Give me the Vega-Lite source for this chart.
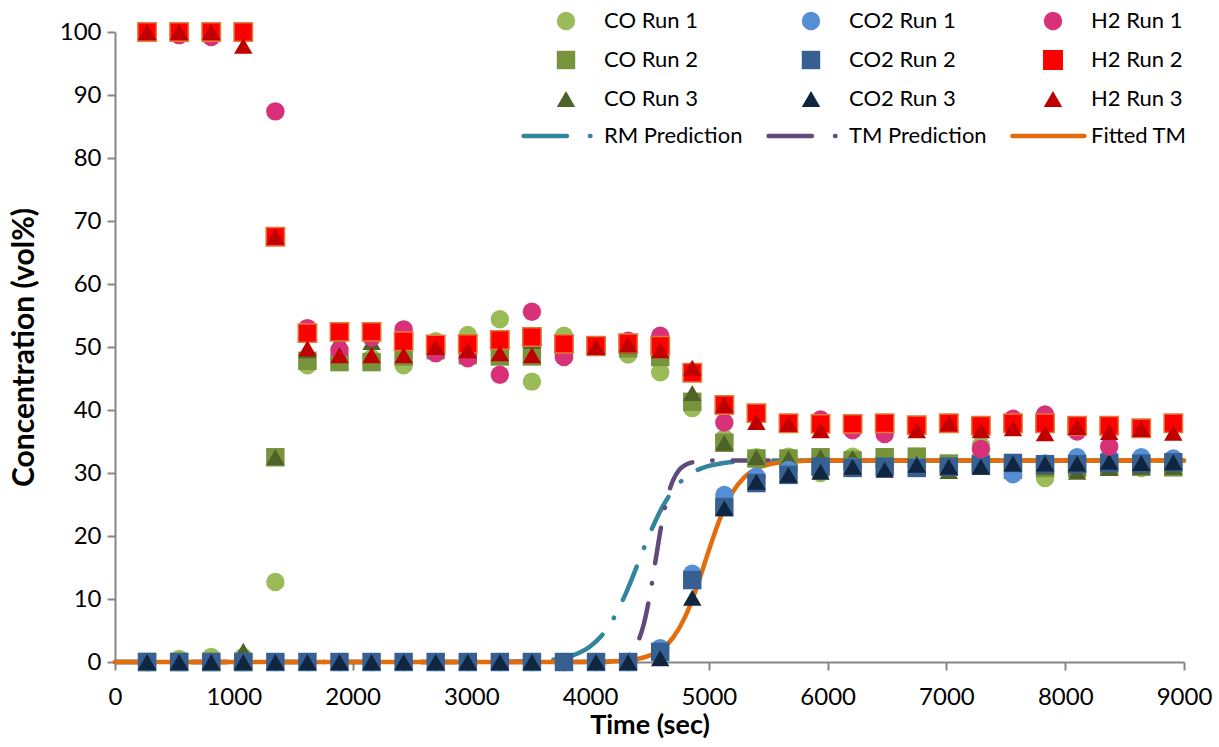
{
"$schema": "https://vega.github.io/schema/vega-lite/v6.json",
"width": 1069, "height": 630,
"autosize": {"type": "none"},
"padding": {"left": 115, "top": 32, "right": 35, "bottom": 85},
"background": "white",
"config": {
 "view": {"stroke": null},
 "font": "Lato",
 "axis": {"domainColor": "#868686", "domainWidth": 2, "tickColor": "#868686", "tickWidth": 2, "tickSize": 8, "grid": false,
  "labelColor": "#000000", "labelFontSize": 24, "labelFont": "Lato", "titleColor": "#000000", "titleFont": "Lato", "titleFontWeight": "bold"}
},
"datasets": {
 "pts": [
{"s":"CO Run 1","t":270,"v":0},{"s":"CO Run 1","t":540,"v":0.5},{"s":"CO Run 1","t":810,"v":0.8},{"s":"CO Run 1","t":1080,"v":0.8},{"s":"CO Run 1","t":1350,"v":12.7},{"s":"CO Run 1","t":1620,"v":47.1},{"s":"CO Run 1","t":1890,"v":48},{"s":"CO Run 1","t":2160,"v":48.2},{"s":"CO Run 1","t":2430,"v":47.1},{"s":"CO Run 1","t":2700,"v":50.9},{"s":"CO Run 1","t":2970,"v":51.9},{"s":"CO Run 1","t":3240,"v":54.4},{"s":"CO Run 1","t":3510,"v":44.5},{"s":"CO Run 1","t":3780,"v":51.8},{"s":"CO Run 1","t":4050,"v":50},{"s":"CO Run 1","t":4320,"v":48.8},{"s":"CO Run 1","t":4590,"v":46},{"s":"CO Run 1","t":4860,"v":40.3},{"s":"CO Run 1","t":5130,"v":35.5},{"s":"CO Run 1","t":5400,"v":32.5},{"s":"CO Run 1","t":5670,"v":32.6},{"s":"CO Run 1","t":5940,"v":30},{"s":"CO Run 1","t":6210,"v":32.6},{"s":"CO Run 1","t":6480,"v":32.5},{"s":"CO Run 1","t":6750,"v":31.5},{"s":"CO Run 1","t":7020,"v":31},{"s":"CO Run 1","t":7290,"v":34.4},{"s":"CO Run 1","t":7560,"v":31},{"s":"CO Run 1","t":7830,"v":29.2},{"s":"CO Run 1","t":8100,"v":31},{"s":"CO Run 1","t":8370,"v":31.8},{"s":"CO Run 1","t":8640,"v":30.8},{"s":"CO Run 1","t":8910,"v":31},
{"s":"CO Run 2","t":270,"v":0},{"s":"CO Run 2","t":540,"v":0},{"s":"CO Run 2","t":810,"v":0},{"s":"CO Run 2","t":1080,"v":0},{"s":"CO Run 2","t":1350,"v":32.5},{"s":"CO Run 2","t":1620,"v":47.8},{"s":"CO Run 2","t":1890,"v":47.6},{"s":"CO Run 2","t":2160,"v":47.6},{"s":"CO Run 2","t":2430,"v":48.5},{"s":"CO Run 2","t":2700,"v":49.5},{"s":"CO Run 2","t":2970,"v":48.7},{"s":"CO Run 2","t":3240,"v":48.5},{"s":"CO Run 2","t":3510,"v":48.5},{"s":"CO Run 2","t":3780,"v":49.5},{"s":"CO Run 2","t":4050,"v":50},{"s":"CO Run 2","t":4320,"v":49.8},{"s":"CO Run 2","t":4590,"v":48.4},{"s":"CO Run 2","t":4860,"v":41.3},{"s":"CO Run 2","t":5130,"v":34.8},{"s":"CO Run 2","t":5400,"v":32.3},{"s":"CO Run 2","t":5670,"v":32.3},{"s":"CO Run 2","t":5940,"v":32.5},{"s":"CO Run 2","t":6210,"v":32},{"s":"CO Run 2","t":6480,"v":32.5},{"s":"CO Run 2","t":6750,"v":32.6},{"s":"CO Run 2","t":7020,"v":31.5},{"s":"CO Run 2","t":7290,"v":31.5},{"s":"CO Run 2","t":7560,"v":30.5},{"s":"CO Run 2","t":7830,"v":30.8},{"s":"CO Run 2","t":8100,"v":30.8},{"s":"CO Run 2","t":8370,"v":31},{"s":"CO Run 2","t":8640,"v":31},{"s":"CO Run 2","t":8910,"v":30.9},
{"s":"CO Run 3","t":270,"v":0},{"s":"CO Run 3","t":540,"v":0},{"s":"CO Run 3","t":810,"v":0},{"s":"CO Run 3","t":1080,"v":1.8},{"s":"CO Run 3","t":1350,"v":32.5},{"s":"CO Run 3","t":1620,"v":49.5},{"s":"CO Run 3","t":1890,"v":51.1},{"s":"CO Run 3","t":2160,"v":50.8},{"s":"CO Run 3","t":2430,"v":51},{"s":"CO Run 3","t":2700,"v":50},{"s":"CO Run 3","t":2970,"v":50},{"s":"CO Run 3","t":3240,"v":51},{"s":"CO Run 3","t":3510,"v":51},{"s":"CO Run 3","t":4050,"v":50.1},{"s":"CO Run 3","t":4320,"v":50.2},{"s":"CO Run 3","t":4590,"v":49.8},{"s":"CO Run 3","t":4860,"v":42.7},{"s":"CO Run 3","t":5130,"v":34.8},{"s":"CO Run 3","t":5400,"v":32.5},{"s":"CO Run 3","t":5670,"v":32.3},{"s":"CO Run 3","t":5940,"v":32.5},{"s":"CO Run 3","t":6210,"v":32.4},{"s":"CO Run 3","t":6480,"v":31},{"s":"CO Run 3","t":6750,"v":31.5},{"s":"CO Run 3","t":7020,"v":30.3},{"s":"CO Run 3","t":7290,"v":31},{"s":"CO Run 3","t":7560,"v":30.5},{"s":"CO Run 3","t":7830,"v":31},{"s":"CO Run 3","t":8100,"v":30.2},{"s":"CO Run 3","t":8370,"v":30.8},{"s":"CO Run 3","t":8640,"v":31},{"s":"CO Run 3","t":8910,"v":31},
{"s":"CO2 Run 1","t":270,"v":0},{"s":"CO2 Run 1","t":540,"v":0},{"s":"CO2 Run 1","t":810,"v":0},{"s":"CO2 Run 1","t":1080,"v":0},{"s":"CO2 Run 1","t":1350,"v":0},{"s":"CO2 Run 1","t":1620,"v":0},{"s":"CO2 Run 1","t":1890,"v":0},{"s":"CO2 Run 1","t":2160,"v":0},{"s":"CO2 Run 1","t":2430,"v":0},{"s":"CO2 Run 1","t":2700,"v":0},{"s":"CO2 Run 1","t":2970,"v":0},{"s":"CO2 Run 1","t":3240,"v":0},{"s":"CO2 Run 1","t":3510,"v":0},{"s":"CO2 Run 1","t":3780,"v":0},{"s":"CO2 Run 1","t":4050,"v":0},{"s":"CO2 Run 1","t":4320,"v":0},{"s":"CO2 Run 1","t":4590,"v":2.2},{"s":"CO2 Run 1","t":4860,"v":14},{"s":"CO2 Run 1","t":5130,"v":26.5},{"s":"CO2 Run 1","t":5400,"v":29.4},{"s":"CO2 Run 1","t":5670,"v":30.5},{"s":"CO2 Run 1","t":5940,"v":30.5},{"s":"CO2 Run 1","t":6210,"v":31},{"s":"CO2 Run 1","t":6480,"v":31},{"s":"CO2 Run 1","t":6750,"v":31},{"s":"CO2 Run 1","t":7020,"v":31},{"s":"CO2 Run 1","t":7290,"v":31.3},{"s":"CO2 Run 1","t":7560,"v":29.8},{"s":"CO2 Run 1","t":7830,"v":31.5},{"s":"CO2 Run 1","t":8100,"v":32.5},{"s":"CO2 Run 1","t":8370,"v":32.5},{"s":"CO2 Run 1","t":8640,"v":32.5},{"s":"CO2 Run 1","t":8910,"v":32.3},
{"s":"CO2 Run 2","t":270,"v":0},{"s":"CO2 Run 2","t":540,"v":0},{"s":"CO2 Run 2","t":810,"v":0},{"s":"CO2 Run 2","t":1080,"v":0},{"s":"CO2 Run 2","t":1350,"v":0},{"s":"CO2 Run 2","t":1620,"v":0},{"s":"CO2 Run 2","t":1890,"v":0},{"s":"CO2 Run 2","t":2160,"v":0},{"s":"CO2 Run 2","t":2430,"v":0},{"s":"CO2 Run 2","t":2700,"v":0},{"s":"CO2 Run 2","t":2970,"v":0},{"s":"CO2 Run 2","t":3240,"v":0},{"s":"CO2 Run 2","t":3510,"v":0},{"s":"CO2 Run 2","t":3780,"v":0},{"s":"CO2 Run 2","t":4050,"v":0},{"s":"CO2 Run 2","t":4320,"v":0},{"s":"CO2 Run 2","t":4590,"v":1.6},{"s":"CO2 Run 2","t":4860,"v":13},{"s":"CO2 Run 2","t":5130,"v":24.6},{"s":"CO2 Run 2","t":5400,"v":28.4},{"s":"CO2 Run 2","t":5670,"v":29.7},{"s":"CO2 Run 2","t":5940,"v":31},{"s":"CO2 Run 2","t":6210,"v":30.8},{"s":"CO2 Run 2","t":6480,"v":31},{"s":"CO2 Run 2","t":6750,"v":30.8},{"s":"CO2 Run 2","t":7020,"v":31},{"s":"CO2 Run 2","t":7290,"v":31.3},{"s":"CO2 Run 2","t":7560,"v":31.6},{"s":"CO2 Run 2","t":7830,"v":31.4},{"s":"CO2 Run 2","t":8100,"v":31.4},{"s":"CO2 Run 2","t":8370,"v":31.6},{"s":"CO2 Run 2","t":8640,"v":31.5},{"s":"CO2 Run 2","t":8910,"v":31.7},
{"s":"CO2 Run 3","t":270,"v":0},{"s":"CO2 Run 3","t":540,"v":0},{"s":"CO2 Run 3","t":810,"v":0},{"s":"CO2 Run 3","t":1080,"v":0},{"s":"CO2 Run 3","t":1350,"v":0},{"s":"CO2 Run 3","t":1620,"v":0},{"s":"CO2 Run 3","t":1890,"v":0},{"s":"CO2 Run 3","t":2160,"v":0},{"s":"CO2 Run 3","t":2430,"v":0},{"s":"CO2 Run 3","t":2700,"v":0},{"s":"CO2 Run 3","t":2970,"v":0},{"s":"CO2 Run 3","t":3240,"v":0},{"s":"CO2 Run 3","t":3510,"v":0},{"s":"CO2 Run 3","t":4050,"v":0},{"s":"CO2 Run 3","t":4320,"v":0},{"s":"CO2 Run 3","t":4590,"v":0.6},{"s":"CO2 Run 3","t":4860,"v":10.2},{"s":"CO2 Run 3","t":5130,"v":24.4},{"s":"CO2 Run 3","t":5400,"v":28.6},{"s":"CO2 Run 3","t":5670,"v":29.7},{"s":"CO2 Run 3","t":5940,"v":30.2},{"s":"CO2 Run 3","t":6210,"v":31},{"s":"CO2 Run 3","t":6480,"v":30.5},{"s":"CO2 Run 3","t":6750,"v":31.3},{"s":"CO2 Run 3","t":7020,"v":31},{"s":"CO2 Run 3","t":7290,"v":31},{"s":"CO2 Run 3","t":7560,"v":31.5},{"s":"CO2 Run 3","t":7830,"v":31.5},{"s":"CO2 Run 3","t":8100,"v":31.5},{"s":"CO2 Run 3","t":8370,"v":31.8},{"s":"CO2 Run 3","t":8640,"v":31.6},{"s":"CO2 Run 3","t":8910,"v":31.7},
{"s":"H2 Run 1","t":270,"v":100},{"s":"H2 Run 1","t":540,"v":99.5},{"s":"H2 Run 1","t":810,"v":99.2},{"s":"H2 Run 1","t":1080,"v":99.8},{"s":"H2 Run 1","t":1350,"v":87.4},{"s":"H2 Run 1","t":1620,"v":53},{"s":"H2 Run 1","t":1890,"v":49.5},{"s":"H2 Run 1","t":2160,"v":51.5},{"s":"H2 Run 1","t":2430,"v":52.8},{"s":"H2 Run 1","t":2700,"v":49},{"s":"H2 Run 1","t":2970,"v":48.2},{"s":"H2 Run 1","t":3240,"v":45.6},{"s":"H2 Run 1","t":3510,"v":55.6},{"s":"H2 Run 1","t":3780,"v":48.4},{"s":"H2 Run 1","t":4050,"v":50.2},{"s":"H2 Run 1","t":4320,"v":51},{"s":"H2 Run 1","t":4590,"v":51.8},{"s":"H2 Run 1","t":4860,"v":46},{"s":"H2 Run 1","t":5130,"v":38},{"s":"H2 Run 1","t":5400,"v":39},{"s":"H2 Run 1","t":5670,"v":38},{"s":"H2 Run 1","t":5940,"v":38.5},{"s":"H2 Run 1","t":6210,"v":36.8},{"s":"H2 Run 1","t":6480,"v":36.2},{"s":"H2 Run 1","t":6750,"v":37.5},{"s":"H2 Run 1","t":7020,"v":38},{"s":"H2 Run 1","t":7290,"v":33.8},{"s":"H2 Run 1","t":7560,"v":38.6},{"s":"H2 Run 1","t":7830,"v":39.3},{"s":"H2 Run 1","t":8100,"v":36.6},{"s":"H2 Run 1","t":8370,"v":34.2},{"s":"H2 Run 1","t":8640,"v":37},{"s":"H2 Run 1","t":8910,"v":37.5},
{"s":"H2 Run 2","t":270,"v":100},{"s":"H2 Run 2","t":540,"v":100},{"s":"H2 Run 2","t":810,"v":100},{"s":"H2 Run 2","t":1080,"v":100},{"s":"H2 Run 2","t":1350,"v":67.5},{"s":"H2 Run 2","t":1620,"v":52.2},{"s":"H2 Run 2","t":1890,"v":52.4},{"s":"H2 Run 2","t":2160,"v":52.4},{"s":"H2 Run 2","t":2430,"v":50.9},{"s":"H2 Run 2","t":2700,"v":50.4},{"s":"H2 Run 2","t":2970,"v":50.5},{"s":"H2 Run 2","t":3240,"v":51.1},{"s":"H2 Run 2","t":3510,"v":51.6},{"s":"H2 Run 2","t":3780,"v":50.5},{"s":"H2 Run 2","t":4050,"v":50.2},{"s":"H2 Run 2","t":4320,"v":50.6},{"s":"H2 Run 2","t":4590,"v":50.2},{"s":"H2 Run 2","t":4860,"v":45.9},{"s":"H2 Run 2","t":5130,"v":40.8},{"s":"H2 Run 2","t":5400,"v":39.5},{"s":"H2 Run 2","t":5670,"v":37.9},{"s":"H2 Run 2","t":5940,"v":37.8},{"s":"H2 Run 2","t":6210,"v":37.8},{"s":"H2 Run 2","t":6480,"v":37.9},{"s":"H2 Run 2","t":6750,"v":37.6},{"s":"H2 Run 2","t":7020,"v":37.9},{"s":"H2 Run 2","t":7290,"v":37.5},{"s":"H2 Run 2","t":7560,"v":37.9},{"s":"H2 Run 2","t":7830,"v":37.9},{"s":"H2 Run 2","t":8100,"v":37.5},{"s":"H2 Run 2","t":8370,"v":37.5},{"s":"H2 Run 2","t":8640,"v":37.1},{"s":"H2 Run 2","t":8910,"v":37.9},
{"s":"H2 Run 3","t":270,"v":100},{"s":"H2 Run 3","t":540,"v":100},{"s":"H2 Run 3","t":810,"v":100},{"s":"H2 Run 3","t":1080,"v":97.8},{"s":"H2 Run 3","t":1350,"v":67.5},{"s":"H2 Run 3","t":1620,"v":49.8},{"s":"H2 Run 3","t":1890,"v":48.7},{"s":"H2 Run 3","t":2160,"v":48.7},{"s":"H2 Run 3","t":2430,"v":48.7},{"s":"H2 Run 3","t":2700,"v":50},{"s":"H2 Run 3","t":2970,"v":49.5},{"s":"H2 Run 3","t":3240,"v":49},{"s":"H2 Run 3","t":3510,"v":48.7},{"s":"H2 Run 3","t":4050,"v":50},{"s":"H2 Run 3","t":4320,"v":50.4},{"s":"H2 Run 3","t":4590,"v":49.5},{"s":"H2 Run 3","t":4860,"v":46.7},{"s":"H2 Run 3","t":5130,"v":40.8},{"s":"H2 Run 3","t":5400,"v":38.1},{"s":"H2 Run 3","t":5670,"v":37.8},{"s":"H2 Run 3","t":5940,"v":36.8},{"s":"H2 Run 3","t":6750,"v":36.8},{"s":"H2 Run 3","t":7020,"v":37.9},{"s":"H2 Run 3","t":7290,"v":36.8},{"s":"H2 Run 3","t":7560,"v":37.1},{"s":"H2 Run 3","t":7830,"v":36.3},{"s":"H2 Run 3","t":8100,"v":37.3},{"s":"H2 Run 3","t":8370,"v":36.5},{"s":"H2 Run 3","t":8640,"v":37},{"s":"H2 Run 3","t":8910,"v":36.4}
 ],
 "lines": [
{"s":"RM Prediction","t":0,"v":0},{"s":"RM Prediction","t":3000,"v":0},{"s":"RM Prediction","t":3400,"v":0.07},{"s":"RM Prediction","t":3600,"v":0.24},{"s":"RM Prediction","t":3800,"v":0.77},{"s":"RM Prediction","t":3900,"v":1.39},{"s":"RM Prediction","t":4000,"v":2.46},{"s":"RM Prediction","t":4100,"v":4.24},{"s":"RM Prediction","t":4200,"v":7.0},{"s":"RM Prediction","t":4300,"v":10.85},{"s":"RM Prediction","t":4400,"v":15.5},{"s":"RM Prediction","t":4500,"v":20.25},{"s":"RM Prediction","t":4600,"v":24.3},{"s":"RM Prediction","t":4700,"v":27.3},{"s":"RM Prediction","t":4800,"v":29.25},{"s":"RM Prediction","t":4900,"v":30.44},{"s":"RM Prediction","t":5000,"v":31.13},{"s":"RM Prediction","t":5100,"v":31.52},{"s":"RM Prediction","t":5200,"v":31.74},{"s":"RM Prediction","t":5400,"v":31.92},{"s":"RM Prediction","t":5600,"v":32},{"s":"RM Prediction","t":9000,"v":32},
{"s":"TM Prediction","t":0,"v":0},{"s":"TM Prediction","t":4100,"v":0},{"s":"TM Prediction","t":4200,"v":0.17},{"s":"TM Prediction","t":4300,"v":0.75},{"s":"TM Prediction","t":4350,"v":1.54},{"s":"TM Prediction","t":4400,"v":3.08},{"s":"TM Prediction","t":4450,"v":5.87},{"s":"TM Prediction","t":4500,"v":10.3},{"s":"TM Prediction","t":4550,"v":16},{"s":"TM Prediction","t":4600,"v":21.7},{"s":"TM Prediction","t":4650,"v":26.1},{"s":"TM Prediction","t":4700,"v":28.9},{"s":"TM Prediction","t":4750,"v":30.5},{"s":"TM Prediction","t":4800,"v":31.25},{"s":"TM Prediction","t":4850,"v":31.64},{"s":"TM Prediction","t":4900,"v":31.83},{"s":"TM Prediction","t":5000,"v":31.96},{"s":"TM Prediction","t":5200,"v":32},{"s":"TM Prediction","t":9000,"v":32},
{"s":"Fitted TM","t":0,"v":0},{"s":"Fitted TM","t":3800,"v":0},{"s":"Fitted TM","t":4000,"v":0.03},{"s":"Fitted TM","t":4200,"v":0.12},{"s":"Fitted TM","t":4300,"v":0.24},{"s":"Fitted TM","t":4400,"v":0.49},{"s":"Fitted TM","t":4500,"v":1.0},{"s":"Fitted TM","t":4600,"v":2.01},{"s":"Fitted TM","t":4700,"v":3.92},{"s":"Fitted TM","t":4800,"v":7.17},{"s":"Fitted TM","t":4900,"v":12.0},{"s":"Fitted TM","t":5000,"v":17.75},{"s":"Fitted TM","t":5100,"v":23.07},{"s":"Fitted TM","t":5200,"v":26.96},{"s":"Fitted TM","t":5300,"v":29.36},{"s":"Fitted TM","t":5400,"v":30.67},{"s":"Fitted TM","t":5500,"v":31.35},{"s":"Fitted TM","t":5600,"v":31.68},{"s":"Fitted TM","t":5800,"v":31.93},{"s":"Fitted TM","t":6000,"v":32},{"s":"Fitted TM","t":9000,"v":32}
 ]
},
"encoding": {
 "x": {"field": "t", "type": "quantitative", "scale": {"domain": [0, 9000], "nice": false},
  "axis": {"title": "Time (sec)", "titleFontSize": 27, "values": [0,1000,2000,3000,4000,5000,6000,7000,8000,9000], "format": "d", "labelPadding": 15, "titlePadding": 3, "labelFlush": false}},
 "y": {"field": "v", "type": "quantitative", "scale": {"domain": [0, 100], "nice": false},
  "axis": {"title": "Concentration (vol%)", "titleFontSize": 30, "values": [0,10,20,30,40,50,60,70,80,90,100], "format": "d", "labelPadding": 6, "titlePadding": 20}},
 "color": {"field": "s", "type": "nominal",
  "scale": {"domain": ["CO Run 1","CO Run 2","CO Run 3","RM Prediction","CO2 Run 1","CO2 Run 2","CO2 Run 3","TM Prediction","H2 Run 1","H2 Run 2","H2 Run 3","Fitted TM"],
   "range": ["#9BBB59","#77933C","#4F6228","#31859C","#558ED5","#376092","#10253F","#604A7B","#D9307A","#FF0000","#C00000","#E46C0A"]},
  "legend": {"title": null, "orient": "none", "legendX": 440, "legendY": -22, "columns": 3, "columnPadding": 16, "rowPadding": 15,
   "labelFontSize": 22, "labelFont": "Lato", "labelColor": "#000000", "symbolSize": 340, "labelOffset": 27, "labelLimit": 400, "symbolOpacity": 1,
   "encode": {"symbols": {"update": {
     "stroke": {"signal": "datum.value === 'H2 Run 2' ? '#E07B39' : scale('color', datum.value)"},
     "strokeWidth": {"signal": "indexof(['RM Prediction','TM Prediction','Fitted TM'], datum.value) >= 0 ? 4.5 : (datum.value === 'H2 Run 2' ? 1.5 : 0)"},
     "strokeCap": {"value": "round"}}}}}
 }
},
"layer": [
 {"data": {"name": "lines"}, "transform": [{"filter": "datum.s === 'RM Prediction'"}],
  "mark": {"type": "line", "strokeWidth": 4.5, "strokeCap": "round", "strokeDash": [36, 20, 0.5, 20], "interpolate": "monotone", "opacity": 1}},
 {"data": {"name": "lines"}, "transform": [{"filter": "datum.s === 'TM Prediction'"}],
  "mark": {"type": "line", "strokeWidth": 4.5, "strokeCap": "round", "strokeDash": [36, 20, 0.5, 20], "interpolate": "monotone", "opacity": 1}},
 {"data": {"name": "lines"}, "transform": [{"filter": "datum.s === 'Fitted TM'"}],
  "mark": {"type": "line", "strokeWidth": 4.5, "strokeCap": "round", "interpolate": "monotone", "opacity": 1}},
 {"data": {"name": "pts"},
  "mark": {"type": "point", "filled": true, "size": 340, "opacity": 1},
  "encoding": {
   "shape": {"field": "s", "type": "nominal",
    "scale": {"domain": ["CO Run 1","CO Run 2","CO Run 3","RM Prediction","CO2 Run 1","CO2 Run 2","CO2 Run 3","TM Prediction","H2 Run 1","H2 Run 2","H2 Run 3","Fitted TM"],
     "range": ["circle","square","triangle-up","M-4.6,0H0.1M2.6,0H2.65","circle","square","triangle-up","M-4.6,0H0.1M2.6,0H2.65","circle","square","triangle-up","M-4.4,0H3.4"]},
    "legend": {"title": null, "orient": "none", "legendX": 440, "legendY": -22, "columns": 3, "columnPadding": 16, "rowPadding": 15,
     "labelFontSize": 22, "labelFont": "Lato", "labelColor": "#000000", "symbolSize": 340, "labelOffset": 27, "labelLimit": 400, "symbolOpacity": 1}},
   "stroke": {"condition": {"test": "datum.s === 'H2 Run 2'", "value": "#E07B39"}, "value": "transparent"},
   "strokeWidth": {"value": 1.5}
  }}
]
}
